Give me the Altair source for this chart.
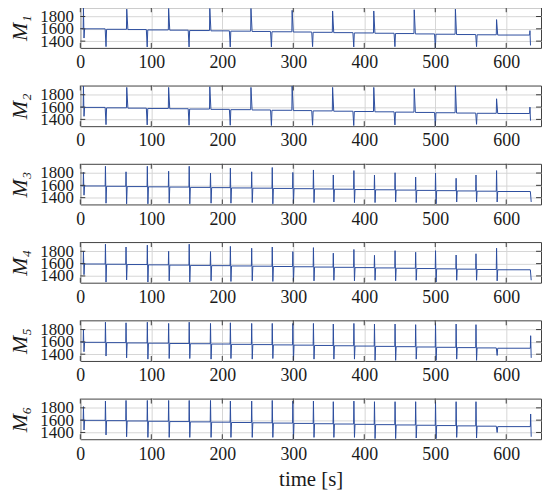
import altair as alt
import pandas as pd

SERIF = "Liberation Serif"
X_TICKS = [0, 100, 200, 300, 400, 500, 600]
Y_TICKS = [1400, 1600, 1800]
NAMES = ["M₁", "M₂", "M₃", "M₄", "M₅", "M₆"]

# event times [s]
T_M12 = [4, 35, 65, 93, 124, 152, 182, 210, 240, 268, 298, 326, 355, 384, 413, 442, 470, 499, 528, 557, 586, 633]
T_M36 = [4, 35, 64, 94, 124, 153, 183, 211, 241, 270, 299, 328, 356, 385, 414, 443, 472, 500, 529, 557, 586, 634]

# baseline level before each event
BASE_M1 = [1603, 1600, 1592, 1588, 1582, 1578, 1572, 1567, 1562, 1557, 1552, 1548, 1543, 1538, 1533, 1528, 1523, 1517, 1512, 1507, 1503, 1499]
BASE_M2 = [1598, 1595, 1588, 1583, 1578, 1573, 1568, 1563, 1558, 1553, 1548, 1543, 1538, 1533, 1528, 1523, 1518, 1513, 1508, 1503, 1499, 1496]
BASE_M3 = [1592, 1590, 1585, 1580, 1576, 1572, 1567, 1563, 1558, 1554, 1550, 1546, 1541, 1537, 1532, 1528, 1523, 1518, 1514, 1509, 1505, 1500]
BASE_M4 = [1597, 1594, 1590, 1585, 1580, 1576, 1571, 1567, 1562, 1558, 1553, 1549, 1544, 1540, 1535, 1530, 1525, 1520, 1515, 1510, 1505, 1500]
BASE_M5 = [1596, 1593, 1588, 1583, 1579, 1574, 1570, 1565, 1560, 1556, 1551, 1547, 1542, 1537, 1532, 1527, 1522, 1517, 1512, 1507, 1502, 1497]
BASE_M6 = [1600, 1597, 1592, 1587, 1582, 1577, 1572, 1567, 1562, 1557, 1552, 1547, 1542, 1537, 1532, 1527, 1522, 1517, 1512, 1507, 1502, 1495]

# event maxima (None = no upward swing)
HI_M1 = [1940, None, 1920, None, 1930, None, 1930, None, 1930, None, 1900, None, 1890, None, 1890, None, 1910, None, 1920, None, 1750, 1570]
HI_M2 = [1940, None, 1920, None, 1920, None, 1930, None, 1920, None, 1940, None, 1920, None, 1920, None, 1900, None, 1950, None, 1735, 1600]
HI_M3 = [1810, 1910, 1820, 1910, 1830, 1910, 1800, 1880, 1820, 1890, 1810, 1850, 1768, 1840, 1768, 1805, 1735, 1800, 1715, 1768, 1840, None]
HI_M4 = [1800, 1915, 1870, 1900, 1800, 1915, 1795, 1880, 1850, 1870, 1795, 1860, 1770, 1830, 1735, 1810, 1785, 1810, 1740, 1760, 1850, None]
HI_M5 = [1800, 1920, 1910, 1920, 1900, 1920, 1900, 1910, 1900, 1900, 1900, 1900, 1890, 1900, 1890, 1890, 1880, 1900, 1890, 1880, None, 1700]
HI_M6 = [1820, 1910, 1920, 1920, 1920, 1920, 1920, 1910, 1910, 1920, 1910, 1910, 1900, 1910, 1900, 1900, 1900, 1900, 1900, 1900, None, 1700]

# event minima (None = no downward swing)
LO_M1 = [1450, 1310, None, 1305, None, 1305, None, 1305, None, 1305, None, 1310, None, 1305, None, 1310, None, 1285, None, 1310, None, 1330]
LO_M2 = [1450, 1315, None, 1310, None, 1305, None, 1305, None, 1300, None, 1305, None, 1300, None, 1310, None, 1290, None, 1320, None, 1380]
LO_M3 = [1440, 1310, 1300, 1300, 1310, 1300, 1310, 1310, 1320, 1300, 1310, 1320, 1330, 1320, 1320, 1330, 1320, 1300, 1330, 1330, 1330, 1330]
LO_M4 = [1420, 1300, 1335, 1300, 1320, 1300, 1320, 1310, 1320, 1310, 1320, 1320, 1330, 1320, 1330, 1320, 1330, 1300, 1330, 1330, 1320, 1330]
LO_M5 = [1440, 1370, 1340, 1320, 1330, 1330, 1320, 1330, 1320, 1330, 1300, 1320, 1320, 1320, 1300, 1300, 1320, 1300, 1320, 1300, 1380, 1340]
LO_M6 = [1440, 1360, 1330, 1320, 1320, 1320, 1320, 1320, 1320, 1320, 1290, 1320, 1320, 1320, 1300, 1300, 1310, 1300, 1320, 1310, 1400, 1330]

SERIES = [
    (T_M12, BASE_M1, HI_M1, LO_M1),
    (T_M12, BASE_M2, HI_M2, LO_M2),
    (T_M36, BASE_M3, HI_M3, LO_M3),
    (T_M36, BASE_M4, HI_M4, LO_M4),
    (T_M36, BASE_M5, HI_M5, LO_M5),
    (T_M36, BASE_M6, HI_M6, LO_M6),
]


def build(times, base, hi, lo):
    t = [0.0]
    v = [base[0]]
    n = len(times)
    for i, te in enumerate(times):
        b0 = base[i]
        last = i == n - 1
        b1 = b0 if last else base[i + 1]
        t.append(te)
        v.append(b0)
        if hi[i] is not None:
            t.append(te + 0.4)
            v.append(hi[i])
        if lo[i] is not None:
            t.append(te + 1.2)
            v.append(lo[i])
        if not last:
            t.append(te + 2.0)
            v.append(b1)
    return pd.DataFrame({"t": t, "v": v})


W, H = 465, 41
XDOM = [0, 649]
YDOM = [1290, 1950]
TICKC = "#3a3a3a"
GRIDC = "#d6d6d6"
TXT = "#1a1a1a"
xt = pd.DataFrame({"t": X_TICKS})
yt = pd.DataFrame({"v": Y_TICKS})

panels = []
for k, (name, ser) in enumerate(zip(NAMES, SERIES)):
    bottom = k == len(NAMES) - 1
    df = build(*ser)
    xkw = dict(values=X_TICKS, format="d", grid=True, ticks=False, domain=False, labelFlush=False,
               labelPadding=6, labelFontSize=18, labelFont=SERIF, labelColor=TXT,
               gridColor=GRIDC, gridWidth=1)
    if bottom:
        xkw.update(title="time [s]", titleFont=SERIF, titleFontSize=21, titleFontWeight="normal",
                   titleColor=TXT, titlePadding=6)
    else:
        xkw.update(title=None)
    xaxis = alt.Axis(**xkw)
    yaxis = alt.Axis(
        values=Y_TICKS, format="d", grid=True, ticks=False, domain=False, labelOverlap=False,
        labelPadding=7, labelFontSize=17, labelFont=SERIF, labelColor=TXT,
        gridColor=GRIDC, gridWidth=1,
        title=name, titleFont=SERIF, titleFontStyle="italic", titleFontSize=22,
        titleFontWeight="normal", titleColor=TXT, titlePadding=8)
    xs = alt.Scale(domain=XDOM, nice=False, zero=False)
    ys = alt.Scale(domain=YDOM, nice=False, zero=False)
    line = alt.Chart(df).mark_line(color="#2c4d9e", strokeWidth=1, clip=True).encode(
        x=alt.X("t:Q", scale=xs, axis=xaxis),
        y=alt.Y("v:Q", scale=ys, axis=yaxis),
    )
    top_t = alt.Chart(xt).mark_rule(color=TICKC, strokeWidth=1).encode(
        x=alt.X("t:Q", scale=xs, axis=xaxis), y=alt.value(0), y2=alt.value(5))
    bot_t = alt.Chart(xt).mark_rule(color=TICKC, strokeWidth=1).encode(
        x=alt.X("t:Q", scale=xs, axis=xaxis), y=alt.value(H - 5), y2=alt.value(H))
    left_t = alt.Chart(yt).mark_rule(color=TICKC, strokeWidth=1).encode(
        y=alt.Y("v:Q", scale=ys, axis=yaxis), x=alt.value(0), x2=alt.value(5))
    right_t = alt.Chart(yt).mark_rule(color=TICKC, strokeWidth=1).encode(
        y=alt.Y("v:Q", scale=ys, axis=yaxis), x=alt.value(W - 5), x2=alt.value(W))
    panels.append(alt.layer(line, top_t, bot_t, left_t, right_t).properties(width=W, height=H))

chart = alt.vconcat(*panels, spacing=12).properties(
    padding={"left": 0, "right": 0, "top": -4, "bottom": 0},
    background="white",
).configure_view(stroke="#404040", strokeWidth=1)

chart.save("out.html", embed_options={"renderer": "svg", "actions": False})
